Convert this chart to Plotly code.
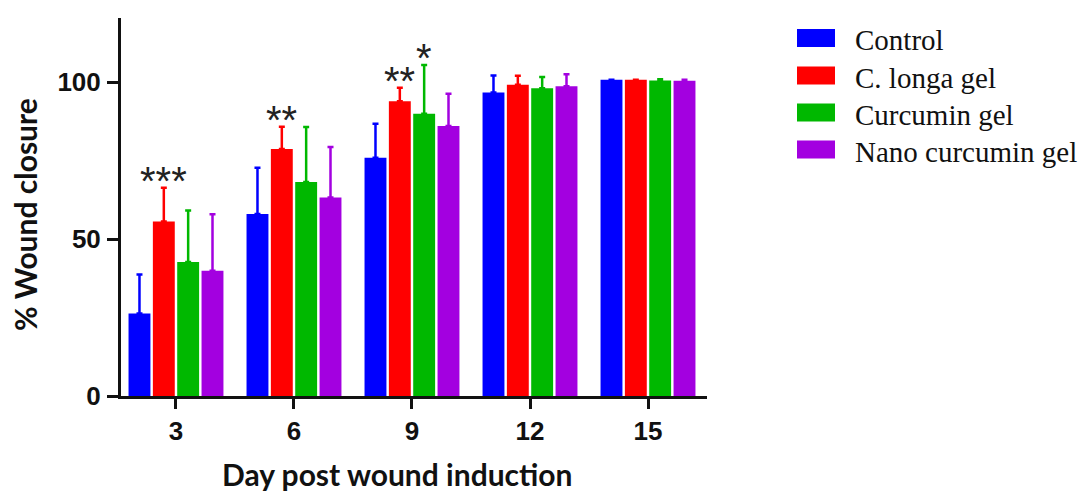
import plotly.graph_objects as go

days = ["3", "6", "9", "12", "15"]
series_names = ["Control", "C. longa gel", "Curcumin gel", "Nano curcumin gel"]
colors = ["#0000FF", "#FF0000", "#00B800", "#A300E0"]

control_mean = [26.3, 58.0, 75.9, 96.7, 100.7]
control_sd = [12.4, 14.7, 10.8, 5.4, 0.0]
clonga_mean = [55.6, 78.7, 93.9, 99.1, 100.7]
clonga_sd = [10.7, 7.1, 4.3, 2.9, 0.0]
curcumin_mean = [42.7, 68.2, 89.9, 98.0, 100.5]
curcumin_sd = [16.4, 17.5, 15.5, 3.6, 0.4]
nano_mean = [39.9, 63.2, 86.0, 98.7, 100.4]
nano_sd = [18.0, 16.1, 10.3, 3.8, 0.3]

sig_control = ["", "", "", "", ""]
sig_clonga = ["***", "**", "**", "", ""]
sig_curcumin = ["", "", "*", "", ""]
sig_nano = ["", "", "", "", ""]

x_title = "Day post wound induction"
y_title = "% Wound closure"

means = [control_mean, clonga_mean, curcumin_mean, nano_mean]
sds = [control_sd, clonga_sd, curcumin_sd, nano_sd]
sigs = [sig_control, sig_clonga, sig_curcumin, sig_nano]

BARGAP = 0.175
fig = go.Figure()
for name, col, m, s in zip(series_names, colors, means, sds):
    fig.add_trace(go.Bar(
        x=days, y=m, name=name,
        marker=dict(color=col, line=dict(width=0)),
        error_y=dict(type="data", array=s, arrayminus=[0] * len(s), symmetric=False,
                     color=col, thickness=2.5, width=3),
        showlegend=False,
    ))

# significance stars above bars
n = len(series_names)
slot = (1 - BARGAP) / n
annotations = []
for k, sg in enumerate(sigs):
    for i, label in enumerate(sg):
        if label:
            annotations.append(dict(
                x=i - (1 - BARGAP) / 2 + slot * (k + 0.5),
                y=means[k][i] + sds[k][i],
                xref="x", yref="y", text=label, showarrow=False,
                yanchor="bottom", yshift=-17,
                font=dict(family="Arial, Liberation Sans", size=40, color="#222"),
            ))

# layout geometry
L, R, T, B = 121, 378, 18, 96
W, H = 1085, 492
pw, ph = W - L - R, H - T - B
def px(xp):
    return (xp - L) / pw
def py(yp):
    return (H - B - yp) / ph

# axis titles
annotations.append(dict(x=px(397), y=py(474), xref="paper", yref="paper",
                        text="<b>%s</b>" % x_title, showarrow=False,
                        xanchor="center", yanchor="middle",
                        font=dict(family="Lato", size=30, color="#111")))
annotations.append(dict(x=px(25), y=py(215), xref="paper", yref="paper",
                        text="<b>%s</b>" % y_title, showarrow=False, textangle=-90,
                        xanchor="center", yanchor="middle",
                        font=dict(family="Lato", size=30, color="#111")))

# custom legend
shapes = []
row_centers = [38, 75.5, 112.5, 149.5]
for name, col, yc in zip(series_names, colors, row_centers):
    shapes.append(dict(type="rect", xref="paper", yref="paper",
                       x0=px(797), x1=px(835), y0=py(yc + 9), y1=py(yc - 9),
                       fillcolor=col, line=dict(width=0)))
    annotations.append(dict(x=px(853), y=py(yc + 2), xref="paper", yref="paper",
                            text=name, showarrow=False, xanchor="left", yanchor="middle",
                            font=dict(family="Liberation Serif, Times New Roman", size=29, color="#111")))

fig.update_layout(
    width=W, height=H,
    margin=dict(l=L, r=R, t=T, b=B),
    paper_bgcolor="white", plot_bgcolor="white",
    barmode="group", bargap=BARGAP, bargroupgap=0.1,
    annotations=annotations, shapes=shapes,
    xaxis=dict(
        type="category", range=[-0.466, 4.5],
        showline=True, linecolor="#111", linewidth=3,
        ticks="outside", ticklen=10, tickwidth=3, tickcolor="#111",
        showgrid=False, zeroline=False,
        tickfont=dict(family="Arial, Liberation Sans", size=26, color="#111", weight="bold"),
    ),
    yaxis=dict(
        range=[0, 120.4], tickvals=[0, 50, 100],
        showline=True, linecolor="#111", linewidth=3,
        ticks="outside", ticklen=11, tickwidth=3, tickcolor="#111",
        showgrid=False, zeroline=False,
        tickfont=dict(family="Arial, Liberation Sans", size=26, color="#111", weight="bold"),
        ticklabelstandoff=1,
    ),
)

fig.write_html("out.html")
